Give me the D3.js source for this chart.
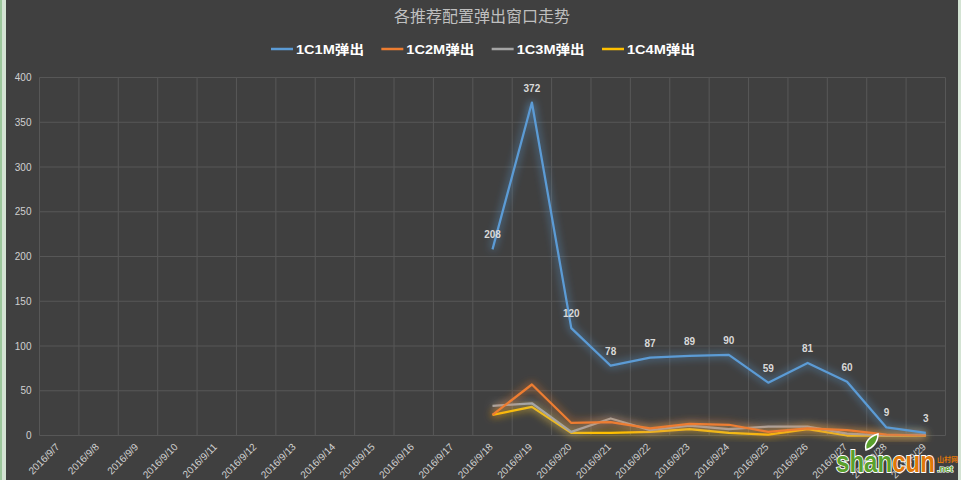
<!DOCTYPE html>
<html><head><meta charset="utf-8">
<script src="https://cdn.jsdelivr.net/npm/d3@7/dist/d3.min.js"></script>
<style>
html,body{margin:0;padding:0;background:#404040;}
svg{display:block;}
</style></head>
<body>
<script>
const categories = ["2016/9/7","2016/9/8","2016/9/9","2016/9/10","2016/9/11","2016/9/12","2016/9/13","2016/9/14","2016/9/15","2016/9/16","2016/9/17","2016/9/18","2016/9/19","2016/9/20","2016/9/21","2016/9/22","2016/9/23","2016/9/24","2016/9/25","2016/9/26","2016/9/27","2016/9/28","2016/9/29"];
const seriesNames = ["1C1M弹出","1C2M弹出","1C3M弹出","1C4M弹出"];
const s1C1M = [null,null,null,null,null,null,null,null,null,null,null,208,372,120,78,87,89,90,59,81,60,9,3];
const s1C2M = [null,null,null,null,null,null,null,null,null,null,null,23,57,14,15,8,13,12,4,8,6,1,0];
const s1C3M = [null,null,null,null,null,null,null,null,null,null,null,33,36,4,19,6,11,7,10,10,2,0,1];
const s1C4M = [null,null,null,null,null,null,null,null,null,null,null,23,32,3,3,4,7,3,1,7,0,0,0];
const yTicks = [0,50,100,150,200,250,300,350,400];
const colors = ["#5B9BD5","#ED7D31","#A5A5A5","#FFC000"];
const title = "各推荐配置弹出窗口走势";

const W = 961, H = 480;
const svg = d3.select("body").append("svg").attr("width", W).attr("height", H);

// spreadsheet edges
svg.append("rect").attr("x",0).attr("y",0).attr("width",W).attr("height",H).attr("fill","#d3e3d3");
svg.append("rect").attr("x",0).attr("y",0).attr("width",2).attr("height",H).attr("fill","#9cc79c");
svg.append("rect").attr("x",6).attr("y",0).attr("width",952).attr("height",H).attr("fill","#404040");

const defs = svg.append("defs");
colors.forEach((c,i)=>{
  const f = defs.append("filter").attr("id","glow"+i).attr("x","-20%").attr("y","-20%").attr("width","140%").attr("height","140%");
  f.append("feGaussianBlur").attr("in","SourceGraphic").attr("stdDeviation",4).attr("result","b");
  f.append("feComponentTransfer").attr("in","b").attr("result","b2")
    .append("feFuncA").attr("type","linear").attr("slope",1.1);
  const m = f.append("feMerge");
  m.append("feMergeNode").attr("in","b2");
  m.append("feMergeNode").attr("in","SourceGraphic");
});

const pLeft = 39.5, pRight = 945.5, pTop = 77.5, pBottom = 435.5;
const x = d3.scaleBand().domain(categories).range([pLeft,pRight]).padding(0);
const y = d3.scaleLinear().domain([0,400]).range([pBottom,pTop]);

// gridlines
const grid = svg.append("g");
grid.selectAll("line.h").data(yTicks).enter().append("line")
  .attr("x1",pLeft).attr("x2",pRight).attr("y1",d=>y(d)).attr("y2",d=>y(d))
  .attr("stroke","#575757").attr("stroke-width",1);
const bounds = categories.map(c=>x(c)).concat([pRight]);
grid.selectAll("line.v").data(bounds).enter().append("line")
  .attr("x1",d=>d).attr("x2",d=>d).attr("y1",pTop).attr("y2",pBottom)
  .attr("stroke","#575757").attr("stroke-width",1);

// y axis labels
const yAxis = d3.axisLeft(y).tickValues(yTicks).tickSize(0).tickPadding(8);
const ya = svg.append("g").attr("transform",`translate(${pLeft},0)`).call(yAxis);
ya.select(".domain").remove();
ya.selectAll("text").attr("fill","#d0d0d0").style("font-family","'Liberation Sans',Arial,sans-serif").style("font-size","10px");

// x axis labels
const xAxis = d3.axisBottom(x).tickSize(0).tickPadding(0);
const xa = svg.append("g").attr("transform",`translate(0,${pBottom})`).call(xAxis);
xa.select(".domain").remove();
xa.selectAll("text").attr("fill","#d0d0d0").style("font-family","'Liberation Sans',Arial,sans-serif").style("font-size","10px")
  .attr("text-anchor","end").attr("dy",0).attr("y",0)
  .attr("transform","translate(1,12) rotate(-45)");

// lines
const allSeries = [s1C1M,s1C2M,s1C3M,s1C4M];
const line = d3.line().defined(d=>d.v!==null).x(d=>x(d.c)+x.bandwidth()/2).y(d=>y(d.v));
const order = [3,2,1,0];
order.forEach(i=>{
  const data = categories.map((c,k)=>({c:c,v:allSeries[i][k]}));
  svg.append("path").datum(data).attr("d",line).attr("fill","none")
    .attr("stroke",colors[i]).attr("stroke-width",2.25).attr("stroke-linejoin","round")
    .attr("filter",`url(#glow${i})`);
});

// data labels for 1C1M
const lbl = categories.map((c,k)=>({c:c,v:s1C1M[k]})).filter(d=>d.v!==null);
svg.append("g").selectAll("text").data(lbl).enter().append("text")
  .attr("x",d=>x(d.c)+x.bandwidth()/2).attr("y",d=>y(d.v)-11)
  .attr("text-anchor","middle").attr("fill","#d9d9d9")
  .style("font-family","'Liberation Sans',Arial,sans-serif").style("font-size","10px").style("font-weight","bold")
  .text(d=>d.v);

// title
svg.append("text").attr("x",482).attr("y",22).attr("text-anchor","middle")
  .attr("fill","#bfbfbf").style("font-family","'Noto Sans CJK SC',sans-serif").style("font-size","16px")
  .text(title);

// legend
const lx = d3.scalePoint().domain(seriesNames).range([271,602]);
const lg = svg.append("g").selectAll("g").data(seriesNames).enter().append("g")
  .attr("transform",d=>`translate(${lx(d)},49)`);
lg.append("line").attr("x1",0).attr("x2",22).attr("y1",0).attr("y2",0)
  .attr("stroke",(d,i)=>colors[i]).attr("stroke-width",2.5);
lg.append("text").attr("x",25).attr("y",5).attr("fill","#ffffff")
  .style("font-family","'Liberation Sans','Noto Sans CJK SC',sans-serif").style("font-size","13px").style("font-weight","bold")
  .attr("textLength",68).attr("lengthAdjust","spacingAndGlyphs")
  .text(d=>d);

// watermark
const wm = svg.append("g").attr("transform","translate(836,472)");
const wt = wm.append("text").style("font-family","'Liberation Sans',Arial,sans-serif").style("font-size","29px").style("font-weight","bold")
  .attr("stroke","#ffffff").attr("stroke-width",2).attr("paint-order","stroke")
  .attr("textLength",99).attr("lengthAdjust","spacingAndGlyphs");
wt.append("tspan").attr("fill","#5aa02c").text("shan");
wt.append("tspan").attr("fill","#e0780a").text("cun");
wm.append("text").attr("x",101).attr("y",-10).attr("fill","#e0780a").style("font-family","'Noto Sans CJK SC',sans-serif").style("font-size","7px").style("font-weight","bold").text("山村网");
wm.append("text").attr("x",101).attr("y",0).attr("fill","#5aa02c").style("font-family","'Liberation Sans',Arial,sans-serif").style("font-size","9px").style("font-weight","bold").attr("stroke","#fff").attr("stroke-width",1.2).attr("paint-order","stroke").text(".net");
wm.append("path").attr("d","M30,-22 C28,-30 34,-36 42,-38 C42,-30 37,-24 30,-22 Z").attr("fill","#5aa02c").attr("stroke","#fff").attr("stroke-width",1.5);
</script>
</body></html>
